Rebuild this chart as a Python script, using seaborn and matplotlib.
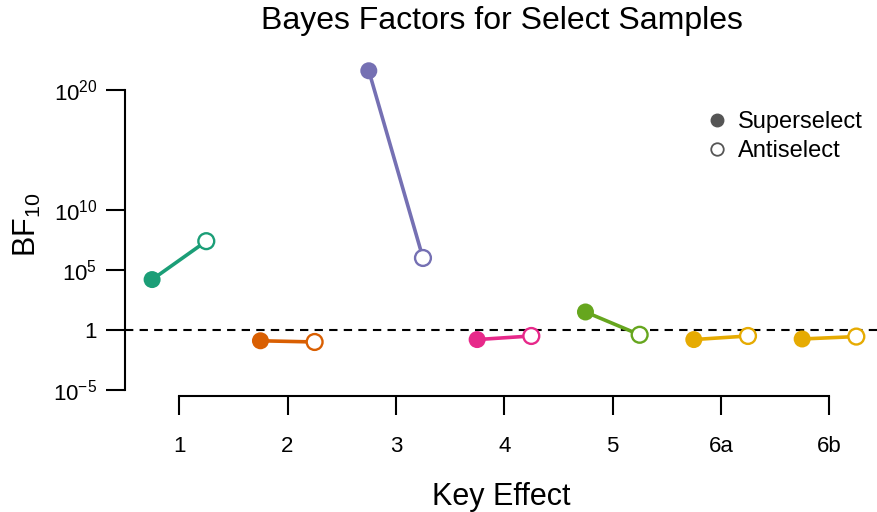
import numpy as np
import pandas as pd
import matplotlib
matplotlib.use("Agg")
import matplotlib.pyplot as plt
from matplotlib.lines import Line2D
import seaborn as sns

# ========== DATA ==========
effects = ["1", "2", "3", "4", "5", "6a", "6b"]
super_log10 = [4.2, -0.9, 21.6, -0.8, 1.5, -0.8, -0.75]   # log10 BF, superselect
anti_log10 = [7.4, -1.0, 6.0, -0.5, -0.4, -0.5, -0.55]    # log10 BF, antiselect
colors = ["#1b9e77", "#d95f02", "#7570b3", "#e7298a", "#66a61e", "#e6ab02", "#e6ab02"]
ytick_vals = [1e-5, 1, 1e5, 1e10, 1e20]
ytick_labels = ["$10^{-5}$", "1", "$10^{5}$", "$10^{10}$", "$10^{20}$"]

rows = []
for i, e in enumerate(effects):
    rows.append({"effect": e, "sample": "Superselect", "pos": i - 0.25, "bf": 10.0 ** super_log10[i]})
    rows.append({"effect": e, "sample": "Antiselect", "pos": i + 0.25, "bf": 10.0 ** anti_log10[i]})
df = pd.DataFrame(rows)
pal = dict(zip(effects, colors))

sns.set_style("white")
plt.rcParams["font.family"] = ["Liberation Sans", "DejaVu Sans"]
plt.rcParams["mathtext.fontset"] = "custom"
plt.rcParams["mathtext.rm"] = "Liberation Sans"
plt.rcParams["mathtext.it"] = "Liberation Sans:italic"
plt.rcParams["mathtext.bf"] = "Liberation Sans:bold"
plt.rcParams["text.color"] = "black"
plt.rcParams["axes.labelcolor"] = "black"
plt.rcParams["xtick.color"] = "black"
plt.rcParams["ytick.color"] = "black"

fig = plt.figure(figsize=(8.78, 5.12), dpi=100)
ax = fig.add_axes([0.1424, 0.2266, 0.8576, 0.668])
ax.set_yscale("log")

ax.axhline(1, color="black", ls=(0, (4, 3)), lw=1.5, zorder=1)

sns.lineplot(data=df, x="pos", y="bf", hue="effect", palette=pal, lw=2.6,
             legend=False, ax=ax, sort=False, zorder=2)
sns.scatterplot(data=df[df["sample"] == "Superselect"], x="pos", y="bf", hue="effect",
                palette=pal, s=150, linewidth=0, legend=False, ax=ax, zorder=3)
sns.scatterplot(data=df[df["sample"] == "Antiselect"], x="pos", y="bf", hue="effect",
                palette=pal, s=130, linewidth=1.7, legend=False, ax=ax, zorder=3)
anti = ax.collections[-1]
anti.set_edgecolors(anti.get_facecolors())
anti.set_facecolors("white")

ax.set_xlim(-0.5, 6.45)
ax.set_ylim(10.0 ** -5.5, 1e23)
ax.set_xticks(range(len(effects)))
ax.set_xticklabels(effects)
ax.set_yticks(ytick_vals)
ax.set_yticklabels(ytick_labels)
ax.yaxis.set_minor_locator(matplotlib.ticker.NullLocator())

for s in ["top", "right"]:
    ax.spines[s].set_visible(False)
ax.spines["left"].set_bounds(1e-5, 1e20)
ax.spines["bottom"].set_bounds(0, 6)
for s in ["left", "bottom"]:
    ax.spines[s].set_linewidth(1.5)
    ax.spines[s].set_color("black")
ax.tick_params(axis="both", length=14, width=1.5, color="black", labelsize=16,
               bottom=True, left=True)
ax.tick_params(axis="x", pad=15)
ax.tick_params(axis="y", pad=6)

ax.set_xlabel("Key Effect", fontsize=22, labelpad=18)
ax.set_ylabel("BF$_{10}$", fontsize=22, labelpad=7)
ax.set_title("Bayes Factors for Select Samples", fontsize=23, pad=18)

handles = [
    Line2D([], [], marker="o", ls="", color="#555555", markersize=9),
    Line2D([], [], marker="o", ls="", markerfacecolor="white", markeredgecolor="#555555",
           markeredgewidth=1.3, markersize=9),
]
ax.legend(handles, ["Superselect", "Antiselect"], frameon=False, fontsize=17,
          loc="upper left", bbox_to_anchor=(0.742, 0.895), handletextpad=0.4,
          labelspacing=0.3, handlelength=1.0)

fig.savefig("out.png", dpi=100)
